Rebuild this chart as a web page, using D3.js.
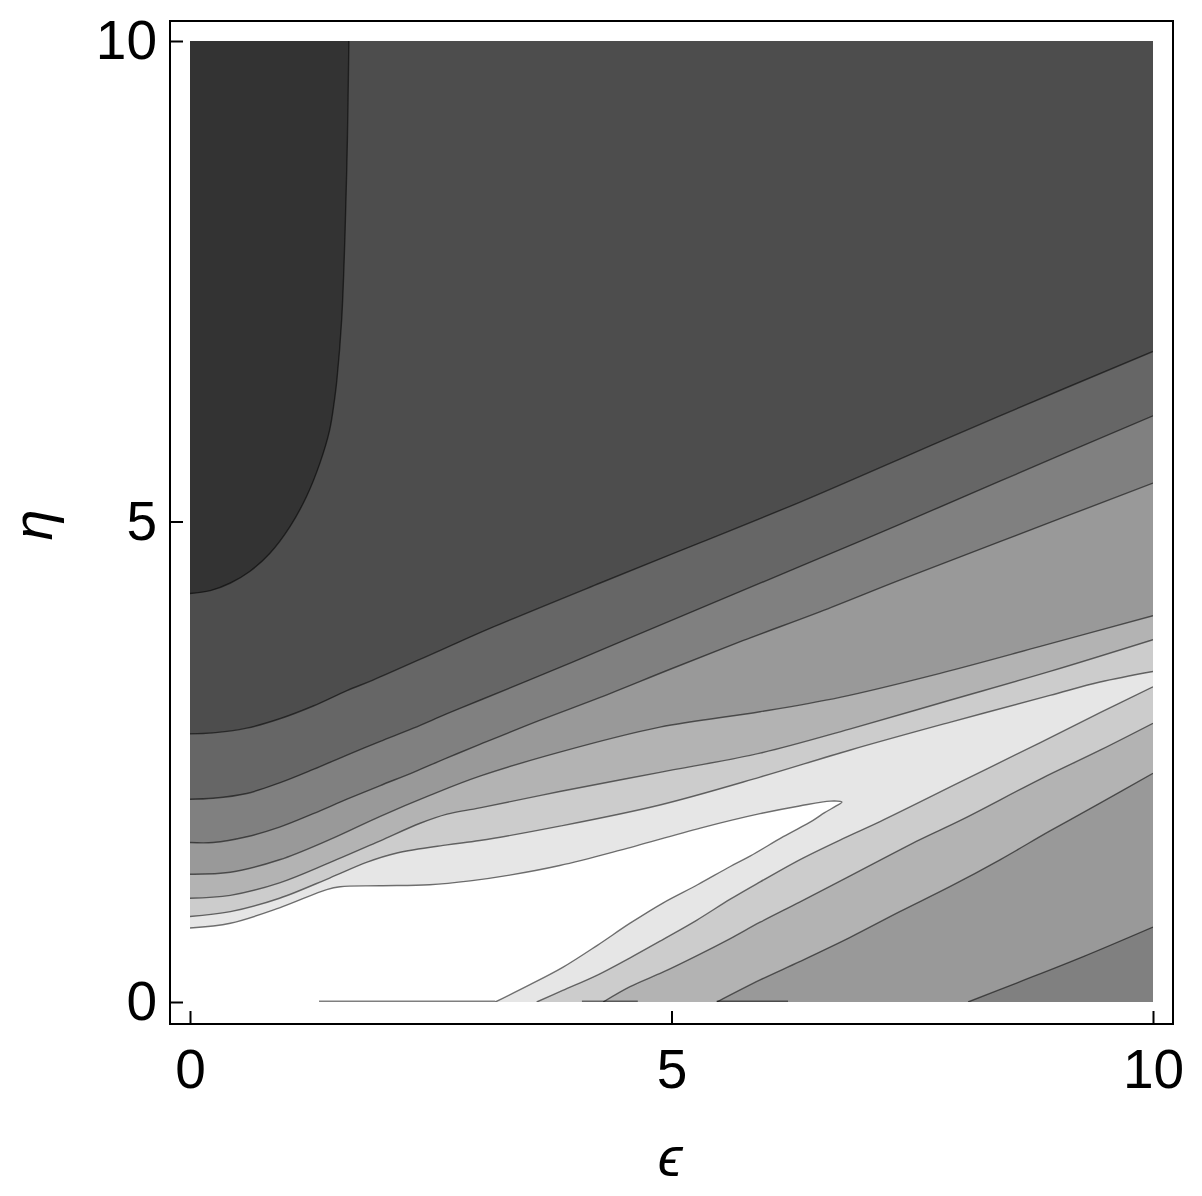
<!DOCTYPE html>
<html>
<head>
<meta charset="utf-8">
<script src="https://cdn.jsdelivr.net/npm/d3@7"></script>
<style>
    body { margin: 0; background: #fff; }
    text { font-family: "Liberation Sans", Arial, sans-serif; }
</style>
</head>
<body>
<svg id="chart" width="1202" height="1196"></svg>
<script>
// band fills, darkest (top-left) to white (ridge)
const fillColors = ["#333333", "#4d4d4d", "#666666", "#808080", "#999999", "#b3b3b3", "#cccccc", "#e6e6e6", "#ffffff"];
const xTicks = [0, 5, 10];
const yTicks = [0, 5, 10];

// contour lines, as [epsilon, eta]
const lineH = [[0, 4.25], [0.21, 4.28], [0.42, 4.36], [0.62, 4.48], [0.83, 4.67], [1.04, 4.95], [1.21, 5.26], [1.35, 5.61], [1.45, 5.95], [1.505, 6.30], [1.525, 6.47], [1.575, 7.1], [1.61, 8.0], [1.635, 9.0], [1.65, 10]];
const lineG = [[0, 2.79], [0.24, 2.80], [0.59, 2.85], [0.94, 2.95], [1.28, 3.08], [1.63, 3.24], [1.90, 3.35], [2.60, 3.66], [3.12, 3.89], [4.26, 4.36], [5.30, 4.78], [6.33, 5.20], [7.37, 5.65], [8.41, 6.10], [10, 6.77]];
const lineF = [[0, 2.11], [0.24, 2.12], [0.59, 2.17], [0.93, 2.28], [1.28, 2.42], [1.63, 2.57], [1.97, 2.71], [2.32, 2.85], [2.67, 3.00], [3.01, 3.14], [3.74, 3.44], [4.50, 3.76], [5.71, 4.27], [6.33, 4.53], [7.37, 4.97], [8.41, 5.42], [10, 6.10]];
const lineE = [[0, 1.66], [0.24, 1.66], [0.59, 1.72], [0.93, 1.82], [1.28, 1.96], [1.63, 2.11], [1.97, 2.25], [2.32, 2.39], [2.67, 2.54], [3.01, 2.68], [3.63, 2.93], [4.26, 3.17], [4.98, 3.46], [5.74, 3.76], [6.54, 4.06], [7.37, 4.39], [8.41, 4.79], [10, 5.40]];
const lineD = [[0, 1.33], [0.42, 1.35], [0.93, 1.48], [1.45, 1.69], [1.97, 1.93], [2.49, 2.15], [3.01, 2.35], [3.84, 2.60], [4.88, 2.86], [5.92, 3.02], [6.75, 3.17], [7.79, 3.42], [8.83, 3.70], [10, 4.02]];
const lineC = [[0, 1.08], [0.42, 1.11], [0.93, 1.24], [1.45, 1.45], [1.97, 1.675], [2.39, 1.86], [2.67, 1.955], [3.01, 2.02], [3.84, 2.19], [4.88, 2.39], [5.92, 2.59], [6.85, 2.84], [7.89, 3.14], [8.93, 3.44], [10, 3.77]];
const lineB = [[0, 0.89], [0.42, 0.94], [0.93, 1.08], [1.45, 1.29], [1.84, 1.455], [2.15, 1.55], [2.67, 1.635], [3.01, 1.68], [3.84, 1.83], [4.88, 2.05], [5.92, 2.34], [6.85, 2.62], [7.89, 2.91], [8.93, 3.19], [9.45, 3.33], [10, 3.44]];
const lineA = [[0, 0.77], [0.42, 0.82], [0.93, 0.98], [1.42, 1.17], [1.56, 1.20], [1.97, 1.21], [2.49, 1.22], [2.91, 1.26], [3.32, 1.32], [3.84, 1.42], [4.47, 1.58], [5.30, 1.81], [5.92, 1.96], [6.33, 2.04], [6.65, 2.09], [6.77, 2.08], [6.71, 2.04], [6.59, 1.97], [6.47, 1.89], [6.16, 1.72], [5.82, 1.52], [5.61, 1.41], [5.27, 1.22], [4.91, 1.03], [4.57, 0.82], [4.23, 0.59], [3.87, 0.36], [3.53, 0.18], [3.17, 0]];
// lower branches, from the right edge down to the bottom edge
const lineBLow = [[10, 3.28], [9.45, 3.01], [8.83, 2.70], [8.00, 2.29], [7.17, 1.88], [6.78, 1.70], [6.33, 1.48], [5.92, 1.25], [5.61, 1.07], [5.26, 0.85], [4.91, 0.65], [4.57, 0.46], [4.23, 0.28], [3.87, 0.12], [3.60, 0]];
const lineCLow = [[10, 2.90], [9.45, 2.62], [8.83, 2.32], [8.00, 1.89], [7.58, 1.69], [6.85, 1.31], [6.33, 1.04], [5.92, 0.83], [5.61, 0.66], [5.26, 0.48], [4.91, 0.31], [4.57, 0.16], [4.29, 0]];
const lineDLow = [[10, 2.38], [9.45, 2.07], [8.93, 1.78], [8.41, 1.48], [7.89, 1.20], [7.37, 0.94], [6.85, 0.67], [6.33, 0.42], [5.92, 0.23], [5.47, 0]];
const lineELow = [[10, 0.78], [9.27, 0.47], [8.59, 0.20], [8.08, 0]];
// stray contour pieces lying along eta = 0
const bottomTraces = [[1.34, 3.17], [4.07, 4.65], [5.47, 6.21]];

const svg = d3.select("#chart");
const x = d3.scaleLinear().domain([0, 10]).range([190, 1153]);
const y = d3.scaleLinear().domain([0, 10]).range([1002, 41]);

const line = d3.line()
    .x(d => x(d[0]))
    .y(d => y(d[1]))
    .curve(d3.curveCatmullRom.alpha(0.5));

// region path: contour pieces joined by straight runs along the plot edges
function region(pieces, corners) {
    let p = "";
    pieces.forEach((pc, i) => {
        const s = line(pc);
        p += i === 0 ? s : "L" + s.slice(1);
    });
    corners.forEach(c => { p += `L${x(c[0])},${y(c[1])}`; });
    return p + "Z";
}

const bands = [
    { pieces: [lineH], corners: [[10, 10], [10, 0], [0, 0]] },
    { pieces: [lineG], corners: [[10, 0], [0, 0]] },
    { pieces: [lineF], corners: [[10, 0], [0, 0]] },
    { pieces: [lineE, lineELow], corners: [[0, 0]] },
    { pieces: [lineD, lineDLow], corners: [[0, 0]] },
    { pieces: [lineC, lineCLow], corners: [[0, 0]] },
    { pieces: [lineB, lineBLow], corners: [[0, 0]] },
    { pieces: [lineA], corners: [[0, 0]] }
];

svg.append("defs").append("clipPath")
    .attr("id", "plotClip")
    .append("rect")
    .attr("x", x(0)).attr("y", y(10))
    .attr("width", x(10) - x(0)).attr("height", y(0) - y(10));

const plot = svg.append("g").attr("clip-path", "url(#plotClip)");

plot.append("rect")
    .attr("x", x(0)).attr("y", y(10))
    .attr("width", x(10) - x(0)).attr("height", y(0) - y(10))
    .attr("fill", fillColors[0]);

plot.selectAll("path.band")
    .data(bands)
    .join("path")
    .attr("class", "band")
    .attr("d", d => region(d.pieces, d.corners))
    .attr("fill", (d, i) => fillColors[i + 1]);

const contourLines = [lineH, lineG, lineF, lineE, lineD, lineC, lineB, lineA, lineBLow, lineCLow, lineDLow, lineELow];
plot.selectAll("path.contour")
    .data(contourLines)
    .join("path")
    .attr("class", "contour")
    .attr("d", line)
    .attr("fill", "none")
    .attr("stroke", "rgba(0,0,0,0.55)")
    .attr("stroke-width", 1.4);

plot.selectAll("line.trace")
    .data(bottomTraces)
    .join("line")
    .attr("class", "trace")
    .attr("x1", d => x(d[0])).attr("x2", d => x(d[1]))
    .attr("y1", y(0) - 0.8).attr("y2", y(0) - 0.8)
    .attr("stroke", "rgba(0,0,0,0.5)")
    .attr("stroke-width", 1.5);

// frame
svg.append("rect")
    .attr("x", 170).attr("y", 21)
    .attr("width", 1003).attr("height", 1003)
    .attr("fill", "none")
    .attr("stroke", "#000")
    .attr("stroke-width", 2);

const xAxis = svg.append("g")
    .attr("transform", "translate(0,1024)")
    .call(d3.axisBottom(x).tickValues(xTicks).tickSizeInner(-13).tickSizeOuter(0).tickPadding(25).tickFormat(d3.format("d")));
const yAxis = svg.append("g")
    .attr("transform", "translate(170,0)")
    .call(d3.axisLeft(y).tickValues(yTicks).tickSizeInner(-13).tickSizeOuter(0).tickPadding(13).tickFormat(d3.format("d")));

[xAxis, yAxis].forEach(g => {
    g.select(".domain").remove();
    g.attr("font-size", 55).attr("font-family", "Liberation Sans, Arial, sans-serif");
    g.selectAll(".tick line").attr("stroke", "#000").attr("stroke-width", 2);
    g.selectAll(".tick text").attr("fill", "#000");
});

// axis titles
svg.append("text")
    .attr("x", 670).attr("y", 1176)
    .attr("text-anchor", "middle")
    .attr("font-size", 56)
    .attr("font-style", "italic")
    .text("\u03f5");

svg.append("text")
    .attr("transform", "translate(52,525) rotate(-90)")
    .attr("text-anchor", "middle")
    .attr("font-size", 56)
    .attr("font-style", "italic")
    .text("\u03b7");
</script>
</body>
</html>
